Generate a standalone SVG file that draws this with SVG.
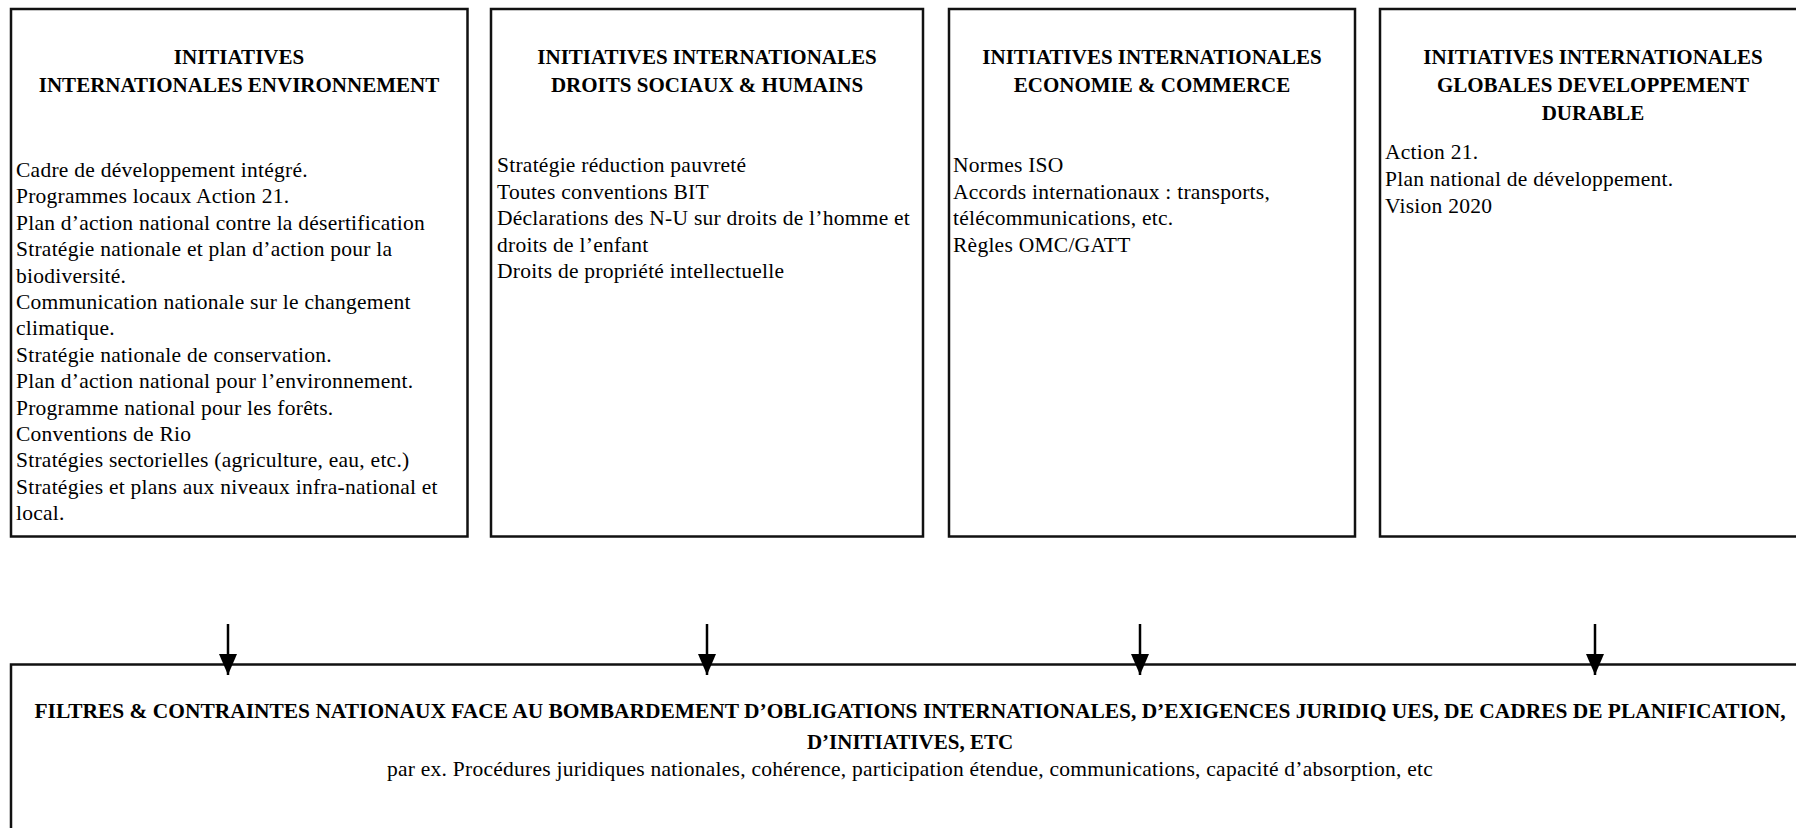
<svg xmlns="http://www.w3.org/2000/svg" width="1796" height="828" viewBox="0 0 1796 828">
  <style>
    .box { fill: #ffffff; stroke: #111111; stroke-width: 2.5; }
    .head { font-family: "Liberation Serif", "Times New Roman", serif; font-weight: 700; font-size: 21px; fill: #000; text-anchor: middle; }
    .body { font-family: "Liberation Serif", "Times New Roman", serif; font-size: 21.5px; letter-spacing: 0.25px; fill: #000; }
    .sub { font-family: "Liberation Serif", "Times New Roman", serif; font-size: 21.5px; letter-spacing: 0.25px; fill: #000; text-anchor: middle; }
    .conn { stroke: #000; stroke-width: 2.5; fill: none; }
  </style>
  <defs>
    <marker id="arrow" markerUnits="userSpaceOnUse" markerWidth="21" markerHeight="18" viewBox="0 0 21 18" refX="21" refY="9" orient="auto">
      <path d="M0,0 L21,9 L0,18 z" fill="#000"/>
    </marker>
  </defs>
  <rect x="0" y="0" width="1796" height="828" fill="#ffffff"/>

  <g id="box-environnement">
    <rect class="box" x="11" y="9" width="456.5" height="527.5"/>
    <text class="head" x="239" y="64">INITIATIVES</text>
    <text class="head" x="239" y="92">INTERNATIONALES ENVIRONNEMENT</text>
    <text class="body" x="16" y="177">Cadre de développement intégré.</text>
    <text class="body" x="16" y="203.4">Programmes locaux Action 21.</text>
    <text class="body" x="16" y="229.8">Plan d’action national contre la désertification</text>
    <text class="body" x="16" y="256.2">Stratégie nationale et plan d’action pour la</text>
    <text class="body" x="16" y="282.6">biodiversité.</text>
    <text class="body" x="16" y="309">Communication nationale sur le changement</text>
    <text class="body" x="16" y="335.4">climatique.</text>
    <text class="body" x="16" y="361.8">Stratégie nationale de conservation.</text>
    <text class="body" x="16" y="388.2">Plan d’action national pour l’environnement.</text>
    <text class="body" x="16" y="414.6">Programme national pour les forêts.</text>
    <text class="body" x="16" y="441">Conventions de Rio</text>
    <text class="body" x="16" y="467.4">Stratégies sectorielles (agriculture, eau, etc.)</text>
    <text class="body" x="16" y="493.8">Stratégies et plans aux niveaux infra-national et</text>
    <text class="body" x="16" y="520.2">local.</text>
  </g>

  <g id="box-droits">
    <rect class="box" x="491" y="9" width="432" height="527.5"/>
    <text class="head" x="707" y="64">INITIATIVES INTERNATIONALES</text>
    <text class="head" x="707" y="92">DROITS SOCIAUX &amp; HUMAINS</text>
    <text class="body" x="497" y="172">Stratégie réduction pauvreté</text>
    <text class="body" x="497" y="198.5">Toutes conventions BIT</text>
    <text class="body" x="497" y="225">Déclarations des N-U sur droits de l’homme et</text>
    <text class="body" x="497" y="251.5">droits de l’enfant</text>
    <text class="body" x="497" y="278">Droits de propriété intellectuelle</text>
  </g>

  <g id="box-economie">
    <rect class="box" x="949" y="9" width="406" height="527.5"/>
    <text class="head" x="1152" y="64">INITIATIVES INTERNATIONALES</text>
    <text class="head" x="1152" y="92">ECONOMIE &amp; COMMERCE</text>
    <text class="body" x="953" y="172">Normes ISO</text>
    <text class="body" x="953" y="198.5">Accords internationaux : transports,</text>
    <text class="body" x="953" y="225">télécommunications, etc.</text>
    <text class="body" x="953" y="251.5">Règles OMC/GATT</text>
  </g>

  <g id="box-developpement">
    <rect class="box" x="1380" y="9" width="440" height="527.5"/>
    <text class="head" x="1593" y="64">INITIATIVES INTERNATIONALES</text>
    <text class="head" x="1593" y="92">GLOBALES DEVELOPPEMENT</text>
    <text class="head" x="1593" y="120">DURABLE</text>
    <text class="body" x="1385" y="159">Action 21.</text>
    <text class="body" x="1385" y="186">Plan national de développement.</text>
    <text class="body" x="1385" y="213">Vision 2020</text>
  </g>

  <g id="box-filtres">
    <rect class="box" x="11" y="664.5" width="1810" height="300"/>
    <text class="head" x="910" y="718" textLength="1751" lengthAdjust="spacingAndGlyphs">FILTRES &amp; CONTRAINTES NATIONAUX FACE AU BOMBARDEMENT D’OBLIGATIONS INTERNATIONALES, D’EXIGENCES JURIDIQ UES, DE CADRES DE PLANIFICATION,</text>
    <text class="head" x="910" y="749">D’INITIATIVES, ETC</text>
    <text class="sub" x="910" y="776">par ex. Procédures juridiques nationales, cohérence, participation étendue, communications, capacité d’absorption, etc</text>
  </g>

  <g id="connectors">
    <line class="conn" x1="228" y1="624" x2="228" y2="675" marker-end="url(#arrow)"/>
    <line class="conn" x1="707" y1="624" x2="707" y2="675" marker-end="url(#arrow)"/>
    <line class="conn" x1="1140" y1="624" x2="1140" y2="675" marker-end="url(#arrow)"/>
    <line class="conn" x1="1595" y1="624" x2="1595" y2="675" marker-end="url(#arrow)"/>
  </g>
</svg>
